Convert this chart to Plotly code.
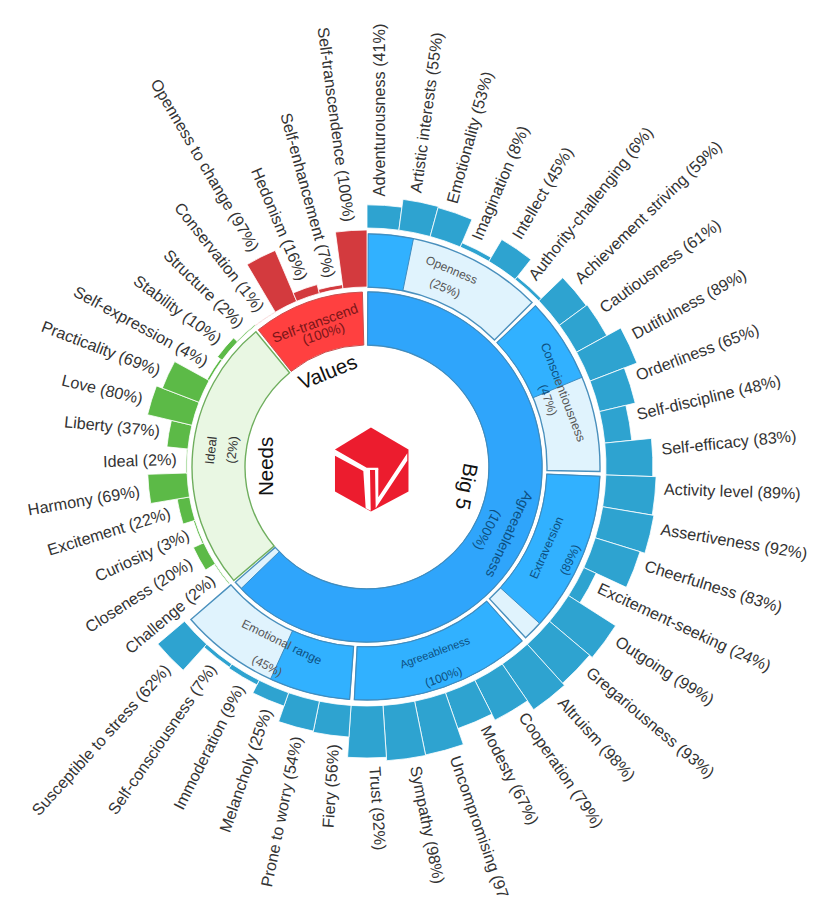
import plotly.graph_objects as go
import math

# Big 5 traits, six facets each, clockwise from 12 o'clock
big5_facets = ['Adventurousness', 'Artistic interests', 'Emotionality', 'Imagination', 'Intellect', 'Authority-challenging',
               'Achievement striving', 'Cautiousness', 'Dutifulness', 'Orderliness', 'Self-discipline', 'Self-efficacy',
               'Activity level', 'Assertiveness', 'Cheerfulness', 'Excitement-seeking', 'Outgoing', 'Gregariousness',
               'Altruism', 'Cooperation', 'Modesty', 'Uncompromising', 'Sympathy', 'Trust',
               'Fiery', 'Prone to worry', 'Melancholy', 'Immoderation', 'Self-consciousness', 'Susceptible to stress']
big5_values = [41, 55, 53, 8, 45, 6,
               59, 61, 89, 65, 48, 83,
               89, 92, 83, 24, 99, 93,
               98, 79, 67, 97, 98, 92,
               56, 54, 25, 9, 7, 62]

needs_items = ['Challenge', 'Closeness', 'Curiosity', 'Excitement', 'Harmony', 'Ideal',
               'Liberty', 'Love', 'Practicality', 'Self-expression', 'Stability', 'Structure']
needs_values = [2, 20, 3, 22, 69, 2, 37, 80, 69, 4, 10, 2]

values_items = ['Conservation', 'Openness to change', 'Hedonism', 'Self-enhancement', 'Self-transcendence']
values_values = [1, 97, 16, 7, 100]

trait_values = [25, 47, 89, 100, 45]

# Canvas and polar geometry (1 radial unit = 1 px)
W, H, OFF = 814, 905, 8
CX, CY, R = 367, 467, 350
STEP = 360 / 47
INNER_R = (122, 175)
TRAIT_R = (180, 233)
BIG5_BASE, PCT_BLUE = 239, 0.565
OTHER_BASE, PCT_OTHER = 180, 0.57

FONT = 'Liberation Sans, Arial, sans-serif'
NAVY = '#0d4f80'
GREY = '#555555'
AFM = {' ': 278, '(': 333, ')': 333, '%': 889, '-': 333, 'f': 278, 'i': 222, 'j': 222, 'l': 222, 'm': 833,
       'r': 333, 's': 500, 't': 278, 'c': 500, 'k': 500, 'v': 500, 'w': 722, 'x': 500, 'y': 500, 'z': 500,
       'A': 667, 'C': 722, 'E': 667, 'F': 611, 'G': 778, 'H': 722, 'I': 278, 'L': 556, 'M': 833, 'O': 778,
       'P': 667, 'S': 667, 'T': 611, 'U': 722}


def text_len(s, size):
    return sum(AFM.get(c, 556) for c in s) * size / 1000


def page_to_paper(px, py):
    return (px - OFF) / W, 1 - (py - OFF) / H


def polar_page(theta, r, side=0):
    # side: offset in px, clockwise of the radial line at theta
    a = math.radians(theta)
    return (CX + r * math.sin(a) + side * math.cos(a),
            CY - r * math.cos(a) + side * math.sin(a))


def ring_text(text, theta, r, rot, size, color='#333333', side=0):
    x, y = page_to_paper(*polar_page(theta, r, side))
    return dict(x=x, y=y, xref='paper', yref='paper', text=text, textangle=rot, showarrow=False,
                xanchor='center', yanchor='middle', font=dict(family=FONT, size=size, color=color))


def sector(theta_start, theta_end, r0, r1, fill, line, lw=1.4):
    return go.Barpolar(theta=[(theta_start + theta_end) / 2], width=[theta_end - theta_start],
                       base=[r0], r=[r1 - r0], marker=dict(color=fill, line=dict(color=line, width=lw)),
                       hoverinfo='skip')


fig = go.Figure()

# Inner ring
fig.add_trace(sector(0.3, 228.8, *INNER_R, '#e0f3fd', '#4a90bd'))
fig.add_trace(sector(0.3, 226, *INNER_R, '#2fa5fb', '#3d8cc0', 1))
fig.add_trace(sector(229.6, 320.6, *INNER_R, '#e9f7e3', '#6fae5e'))
fig.add_trace(sector(321.6, 358.5, *INNER_R, '#ff4040', '#c9504f', 1))

# Trait ring
for i, v in enumerate(trait_values):
    start = i * 46 + 0.3
    end = (i + 1) * 46 - 0.9
    fig.add_trace(sector(start, end, *TRAIT_R, '#e0f3fd', '#4a90bd'))
    fig.add_trace(sector(start, start + (end - start) * v / 100, *TRAIT_R, '#31b1ff', '#3d8cc0', 1))

# Outer bars
ticks = []
groups = [(big5_facets, big5_values, 0, BIG5_BASE, PCT_BLUE, '#2ea3d0'),
          (needs_items, needs_values, 30, OTHER_BASE, PCT_OTHER, '#5cba47'),
          (values_items, values_values, 42, OTHER_BASE, PCT_OTHER, '#d33a3e')]
for names, vals, first, base, scale, color in groups:
    thetas = [(first + i + 0.5) * STEP for i in range(len(vals))]
    fig.add_trace(go.Barpolar(theta=thetas, width=[STEP] * len(vals), base=[base] * len(vals),
                              r=[v * scale for v in vals],
                              marker=dict(color=color, line=dict(color='white', width=0.8)),
                              hoverinfo='skip'))
    for name, v, t in zip(names, vals, thetas):
        ticks.append((name, v, t - STEP / 2, base + v * scale))

annotations = []
LABEL_SIZE = 16.2
for name, v, t, top in ticks:
    text = f'{name} ({v}%)'
    if name == 'Uncompromising':
        text = 'Uncompromising (97'
    # labels follow the bar's leading edge, not its middle
    if t < 180:
        rot, side = t - 90, 11.5
    else:
        rot, side = t - 270, 15
    annotations.append(ring_text(text, t, top + 8.5 + text_len(text, LABEL_SIZE) / 2, rot, LABEL_SIZE, side=side))

annotations += [
    ring_text('Big 5', 101, 102, 101, 20.5, '#111111'),
    ring_text('Needs', 270, 102, -90, 20.5, '#111111'),
    ring_text('Values', 337.7, 103, -22, 20.5, '#111111'),
    ring_text('Agreeableness', 115.4, 158, 115, 14, NAVY),
    ring_text('(100%)', 117.7, 135.5, 118, 13.5, NAVY),
    ring_text('Self-transcend', 340, 153, -20, 14, '#7a1518'),
    ring_text('(100%)', 342, 140, -18, 13.5, '#7a1518'),
    ring_text('Ideal', 276, 157, -84, 13),
    ring_text('(2%)', 277, 136, -83, 13),
    ring_text('Openness', 23.3, 214, 23, 12, GREY),
    ring_text('(25%)', 23.5, 195, 23, 12, GREY),
    ring_text(f'<span style="color:{NAVY}">Consci</span><span style="color:{GREY}">entiousness</span>', 69, 210, 69, 12.5),
    ring_text(f'<span style="color:{NAVY}">(4</span><span style="color:{GREY}">7%)</span>', 69.7, 193, 70, 12),
    ring_text('Extraversion', 114, 197, -66, 12, NAVY),
    ring_text('(89%)', 114.6, 223, -65, 12, NAVY),
    ring_text('Agreeableness', 159.8, 197, -20, 11, NAVY),
    ring_text('(100%)', 160, 223, -20, 12, NAVY),
    ring_text(f'<span style="color:{GREY}">Emotional </span><span style="color:{NAVY}">range</span>', 206, 195, 26, 12),
    ring_text('(45%)', 206.6, 223, 27, 12, GREY),
]


# Logo in the middle, drawn in page pixels
def page_path(points):
    parts = []
    for j, (px, py) in enumerate(points):
        x, y = page_to_paper(px, py)
        parts.append(f"{'M' if j == 0 else 'L'}{x:.4f},{y:.4f}")
    return ' '.join(parts) + ' Z'


logo_outlines = [
    ('#ec1c2e', [(371, 427.5), (408.5, 449.5), (408.5, 491.5), (371, 511.5), (335, 491.5), (335, 449.5)]),
    ('#ffffff', [(335, 449.5), (366.7, 467.7), (378.3, 467.7), (378.3, 470), (370, 470), (370.7, 510.7),
                 (365.7, 508.3), (363.3, 471), (335, 455.7)]),
    ('#ffffff', [(375, 469.3), (378.3, 469.3), (378.3, 497.3), (407.3, 453.3), (407.3, 460.7), (375.7, 508.3)]),
]
logo_shapes = [dict(type='path', xref='paper', yref='paper', line=dict(width=0), fillcolor=c, path=page_path(pts))
               for c, pts in logo_outlines]

fig.update_layout(
    width=W, height=H, autosize=False,
    margin=dict(l=0, r=0, t=0, b=0),
    paper_bgcolor='white', plot_bgcolor='white',
    showlegend=False,
    polar=dict(
        domain=dict(x=[(CX - R - OFF) / W, (CX + R - OFF) / W],
                    y=[1 - (CY + R - OFF) / H, 1 - (CY - R - OFF) / H]),
        bgcolor='rgba(0,0,0,0)',
        barmode='overlay',
        radialaxis=dict(visible=False, range=[0, R]),
        angularaxis=dict(visible=False, rotation=90, direction='clockwise'),
    ),
    annotations=annotations,
    shapes=logo_shapes,
)

fig.write_html('out.html')
